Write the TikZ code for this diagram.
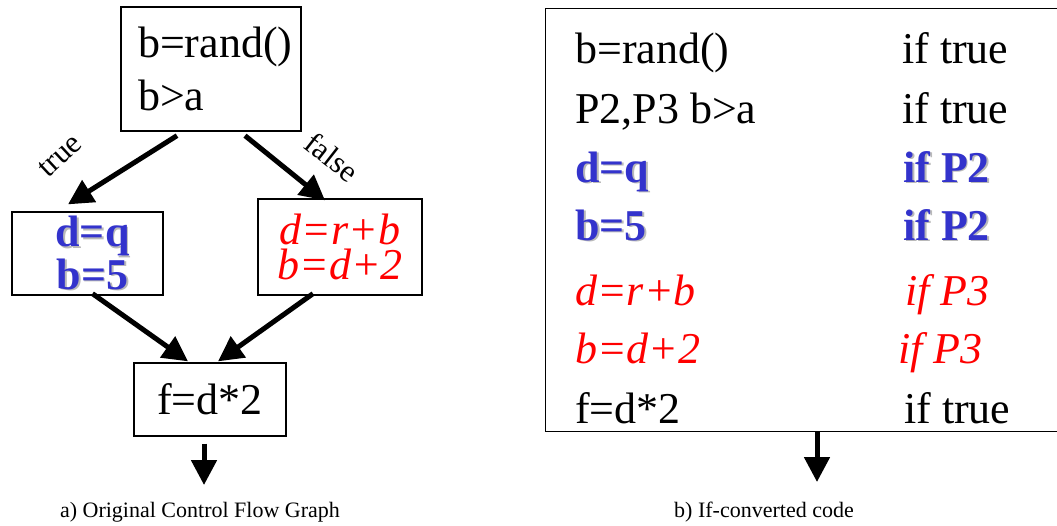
\documentclass[tikz,border=0pt]{standalone}
\usepackage{fontspec}
\setmainfont{Liberation Serif}
\usetikzlibrary{arrows.meta}
\definecolor{predblue}{RGB}{51,51,204}
% bold blue text with a soft grey drop shadow
\newcommand{\shadowed}[1]{\makebox[0pt][l]{\hspace{1.8pt}\raisebox{-1.8pt}{\color{gray!55}#1}}#1}

\begin{document}
\begin{tikzpicture}[x=1pt, y=-1pt,
	flow/.style={line width=5pt, -{Triangle[width=25pt,length=25pt]}},
	blk/.style={draw, line width=1.3pt, inner sep=0pt},
	codetext/.style={font=\fontsize{44}{53}\selectfont},
	pblue/.style={text=predblue, font=\fontsize{44}{36}\selectfont\bfseries},
	pred/.style={text=red, font=\fontsize{44}{35}\selectfont\itshape},
	lbl/.style={font=\fontsize{31}{34}\selectfont},
	captext/.style={font=\fontsize{22}{26}\selectfont}]
	\clip (0,0) rectangle (1057,525);
	
	% a) control flow graph
	\node[blk, codetext, minimum width=180, minimum height=124, text width=146, align=left] (entry) at (211,69) {b=rand()\\b>a};
	\node[blk, pblue, minimum width=151, minimum height=83, text width=151, align=center] (thenblk) at (87.5,253.5) {\hspace*{10pt}\shadowed{d=q}\\\hspace*{10pt}\shadowed{b=5}};
	\node[blk, pred, minimum width=164, minimum height=96, align=center] (elseblk) at (340,247) {d=r+b\\b=d+2};
	\node[blk, codetext, minimum width=152, minimum height=73] (join) at (210,399.5) {f=d*2};
	\coordinate (exitA) at (204,485);
	
	\draw[flow] ([xshift=-34pt,yshift=-4pt]entry.south) -- ([xshift=-19.5pt,yshift=7pt]thenblk.north);
	\draw[flow] ([xshift=34pt,yshift=-4pt]entry.south) -- ([xshift=-15pt,yshift=-2pt]elseblk.north);
	\draw[flow] ([xshift=5pt,yshift=2pt]thenblk.south) -- ([xshift=-22pt,yshift=1pt]join.north);
	\draw[flow] ([xshift=-27pt,yshift=2pt]elseblk.south) -- ([xshift=8pt,yshift=1pt]join.north);
	\draw[flow] ([yshift=-7pt]join.south -| exitA) -- (exitA);
	
	\node[lbl, rotate=43] (truelbl) at (60,156) {true};
	\node[lbl, rotate=-38] (falselbl) at (332,157) {false};
	
	% b) if-converted code
	\node[blk, anchor=north west, minimum width=520, minimum height=423] (code) at (545,8) {};
	\foreach \y/\xg/\stmt/\guard/\sty [count=\i] in {
		63/902/b=rand()/if true/codetext,
		123/902/{P2,P3 b>a}/if true/codetext,
		182/903/\shadowed{d=q}/\shadowed{if P2}/pblue,
		240/903/\shadowed{b=5}/\shadowed{if P2}/pblue,
		305/905/d=r+b/if P3/pred,
		363/898/b=d+2/if P3/pred,
		423/904/f=d*2/if true/codetext}{
		\node[\sty, inner sep=0pt, anchor=base west] (stmt\i) at (575,\y) {\stmt};
		\node[\sty, inner sep=0pt, anchor=base west] (guard\i) at (\xg,\y) {\guard};
	}
	\coordinate (exitB) at (817,482);
	\draw[flow] (code.south -| exitB) -- (exitB);
	
	% captions
	\node[captext, anchor=base] (capA) at (200,517) {a) Original Control Flow Graph};
	\node[captext, anchor=base] (capB) at (764,517) {b) If-converted code};
\end{tikzpicture}
\end{document}
